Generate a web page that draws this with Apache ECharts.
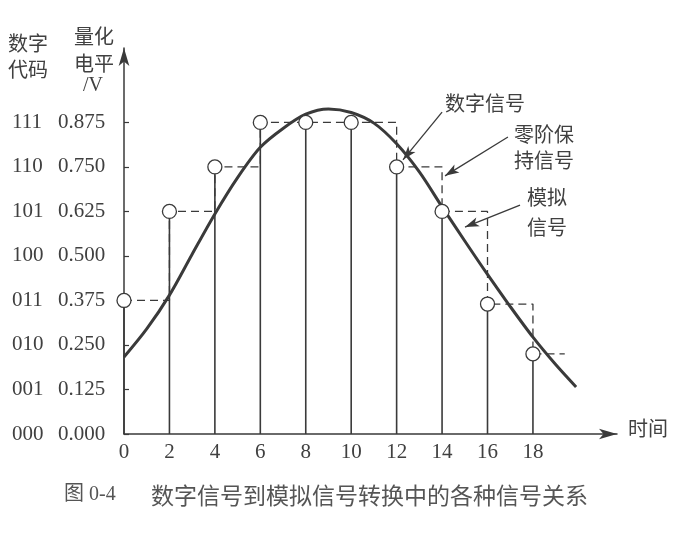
<!DOCTYPE html>
<html>
<head>
<meta charset="utf-8">
<script src="https://cdn.jsdelivr.net/npm/echarts@6/dist/echarts.min.js"></script>
<style>
html,body{margin:0;padding:0;background:#fff;}
#c{width:685px;height:533px;}
</style>
</head>
<body>
<div id="c"></div>
<script>
// ---- data ----
const sampleTimes = [0, 2, 4, 6, 8, 10, 12, 14, 16, 18];
const sampleValues = [0.375, 0.625, 0.75, 0.875, 0.875, 0.875, 0.75, 0.625, 0.365, 0.225];
const holdEndTime = 19.4;
const analogTimes = [0, 1, 2, 3, 4, 5, 6, 7, 8, 9, 10, 11, 12, 13, 14, 15, 16, 17, 18, 19, 19.9];
const analogValues = [0.216, 0.295, 0.39, 0.505, 0.618, 0.72, 0.805, 0.858, 0.898, 0.913, 0.903, 0.873, 0.815, 0.736, 0.638, 0.542, 0.448, 0.358, 0.272, 0.195, 0.132];
const xTickLabels = [0, 2, 4, 6, 8, 10, 12, 14, 16, 18];
const levelValues = [0, 0.125, 0.25, 0.375, 0.5, 0.625, 0.75, 0.875];
const levelLabels = ['0.000', '0.125', '0.250', '0.375', '0.500', '0.625', '0.750', '0.875'];
const codeLabels = ['000', '001', '010', '011', '100', '101', '110', '111'];
// annotation arrows [fromT, fromV, toT, toV]
const arrowDigital = [14.0, 0.904, 12.28, 0.770];
const arrowHold = [16.9, 0.834, 14.13, 0.725];
const arrowAnalog = [17.43, 0.643, 15.01, 0.581];

// ---- build ----
const INK = '#3a3a3a';
const TXT = '#404040';
const SERIF = '"Liberation Serif","Times New Roman",serif';
const CJK = '"Noto Sans CJK SC","Noto Sans CJK JP",sans-serif';

const samples = sampleTimes.map((t, i) => [t, sampleValues[i]]);
const hold = samples.concat([[holdEndTime, sampleValues[sampleValues.length - 1]]]);
const analog = analogTimes.map((t, i) => [t, analogValues[i]]);
const arrow = a => [{coord: [a[0], a[1]]}, {coord: [a[2], a[3]]}];

const chart = echarts.init(document.getElementById('c'), null, {renderer: 'canvas'});
chart.setOption({
  backgroundColor: '#ffffff',
  animation: false,
  grid: {left: 124, right: 68, top: 48, bottom: 99, containLabel: false, outerBoundsMode: 'none'},
  xAxis: {
    type: 'value', min: 0, max: 21.7, interval: 2,
    axisLine: {show: true, symbol: ['none', 'arrow'], symbolSize: [8, 18], lineStyle: {color: INK, width: 1.5}},
    axisTick: {show: false},
    splitLine: {show: false},
    axisLabel: {
      customValues: xTickLabels,
      color: TXT, fontFamily: SERIF, fontSize: 21, margin: 8,
      formatter: v => String(v)
    }
  },
  yAxis: {
    type: 'value', min: 0, max: 1.084, interval: 0.125,
    axisLine: {show: true, symbol: ['none', 'arrow'], symbolSize: [8, 18], lineStyle: {color: INK, width: 1.5}},
    axisTick: {show: true, inside: true, length: 5, customValues: levelValues, lineStyle: {color: INK, width: 1.2}},
    splitLine: {show: false},
    axisLabel: {
      customValues: levelValues,
      margin: 17,
      formatter: v => {
        const i = Math.round(v / 0.125);
        if (i < 0 || i >= levelLabels.length) return '';
        return '{c|' + codeLabels[i] + '}{v|' + levelLabels[i] + '}';
      },
      rich: {
        c: {width: 46, align: 'left', color: TXT, fontFamily: SERIF, fontSize: 21},
        v: {width: 49, align: 'left', color: TXT, fontFamily: SERIF, fontSize: 21}
      }
    }
  },
  graphic: [
    {type: 'text', left: 8, top: 30, style: {text: '数字\n代码', font: '20px ' + CJK, fill: TXT, lineHeight: 26}},
    {type: 'text', left: 74, top: 23, style: {text: '量化\n电平', font: '20px ' + CJK, fill: TXT, lineHeight: 27}},
    {type: 'text', left: 83, top: 76, style: {text: '/V', font: '20px ' + SERIF, fill: TXT}},
    {type: 'text', left: 628, top: 418, style: {text: '时间', font: '20px ' + CJK, fill: TXT}},
    {type: 'text', left: 445, top: 93, style: {text: '数字信号', font: '20px ' + CJK, fill: TXT}},
    {type: 'text', left: 514, top: 121, style: {text: '零阶保\n持信号', font: '20px ' + CJK, fill: TXT, lineHeight: 26}},
    {type: 'text', left: 527, top: 182, style: {text: '模拟\n信号', font: '20px ' + CJK, fill: TXT, lineHeight: 30}},
    {type: 'text', left: 64, top: 485, style: {text: '图 0-4', font: '20px ' + SERIF + ',' + CJK, fill: '#555'}},
    {type: 'text', left: 151, top: 484, style: {text: '数字信号到模拟信号转换中的各种信号关系', font: '23px ' + CJK, fill: '#555'}}
  ],
  series: [
    {
      type: 'bar', data: samples, barWidth: 1.6, z: 1,
      itemStyle: {color: INK}, silent: true
    },
    {
      type: 'line', data: hold, step: 'end', showSymbol: false, z: 2, silent: true,
      lineStyle: {color: INK, width: 1.3, type: [8, 5]}
    },
    {
      type: 'line', data: analog, smooth: 0.3, showSymbol: false, z: 3, silent: true,
      lineStyle: {color: INK, width: 3},
      markLine: {
        silent: true, symbol: ['none', 'arrow'], symbolSize: [7, 14],
        lineStyle: {color: INK, width: 1.3, type: 'solid'},
        label: {show: false},
        data: [arrow(arrowDigital), arrow(arrowHold), arrow(arrowAnalog)]
      }
    },
    {
      type: 'scatter', data: samples, symbol: 'circle', symbolSize: 14, z: 4, silent: true,
      itemStyle: {color: '#ffffff', borderColor: INK, borderWidth: 1.3, opacity: 1}
    }
  ]
});
</script>
</body>
</html>
